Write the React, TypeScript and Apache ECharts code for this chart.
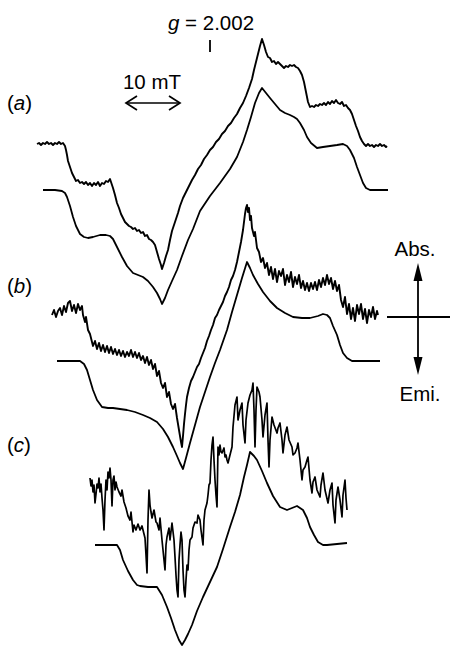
import React, { useEffect, useRef } from "react";
import * as echarts from "echarts";

// Field position (x) and signal level (y, plotted downward).
const traceA_exp: number[][] = [
  [37,144],[39,143],[41,145],[43,143],[45,144],[47,142],[49,144],[51,143],[53,145],[55,143],[57,144],[59,142],[61,144],[63,143],[65,146],[66,150],[67,155],[68,161],[70,167],[72,173],[74,177],[76,181],[78,180],[80,183],[82,182],[84,184],[86,182],[88,185],[90,183],[92,186],[94,183],[96,185],[98,182],[100,186],[102,183],[104,184],[106,181],[108,182],[110,179],[111,182],[113,188],[115,195],[117,203],[119,208],[121,214],[123,218],[125,222],[127,224],[129,226],[131,227],[133,229],[135,228],[137,231],[139,230],[141,233],[143,232],[145,236],[147,235],[149,239],[151,240],[153,242],[155,245],[157,252],[159,259],[161,265],[162,269],[164,263],[166,256],[168,250],[170,240],[172,231],[174,225],[176,219],[178,213],[180,206],[183,198],[186,192],[189,186],[192,180],[195,175],[198,169],[201,165],[204,159],[207,155],[210,150],[213,147],[216,142],[219,139],[222,134],[225,131],[228,126],[231,123],[234,118],[237,114],[240,108],[243,103],[246,96],[249,88],[252,79],[254,70],[256,62],[258,54],[260,46],[262,39],[264,45],[266,52],[268,57],[270,58],[272,62],[274,61],[276,64],[278,62],[280,64],[282,66],[284,68],[286,66],[288,67],[290,65],[292,66],[294,65],[296,67],[298,68],[300,71],[302,75],[304,82],[306,92],[308,102],[310,107],[312,106],[314,107],[316,105],[318,106],[320,104],[322,105],[324,103],[326,105],[328,102],[330,104],[332,101],[334,103],[336,100],[338,103],[340,104],[342,102],[344,106],[346,105],[348,108],[350,110],[352,114],[354,120],[356,126],[358,131],[360,137],[362,141],[364,144],[366,146],[368,144],[370,146],[372,145],[374,147],[376,145],[378,146],[380,144],[382,146],[384,145],[386,147],[387,146]
];

const traceA_sim: number[][] = [
  [43,190],[55,190],[62,191],[65,193],[67,197],[70,206],[73,217],[76,226],[80,234],[84,237],[88,238],[93,237],[100,235],[106,235],[110,236],[113,239],[117,247],[122,257],[127,266],[133,273],[138,275],[143,277],[148,281],[153,287],[157,293],[160,299],[162,304],[165,298],[168,290],[172,281],[177,270],[182,256],[188,240],[193,229],[200,211],[210,196],[220,183],[230,169],[237,157],[243,142],[247,130],[251,117],[255,103],[259,93],[262,88],[266,93],[270,98],[275,104],[280,110],[285,113],[290,115],[294,117],[297,119],[300,123],[304,130],[307,137],[311,143],[317,148],[323,147],[330,146],[337,145],[343,144],[347,146],[350,150],[354,158],[357,167],[360,175],[363,183],[366,188],[370,190],[380,190],[388,190]
];

const traceB_exp: number[][] = [
  [52,315],[54,310],[56,317],[58,311],[60,308],[62,315],[64,306],[66,312],[68,303],[70,301],[72,311],[74,305],[76,313],[78,304],[80,310],[82,306],[83,315],[85,322],[86,317],[88,330],[90,334],[92,342],[93,346],[95,341],[97,349],[99,343],[101,351],[103,345],[105,352],[107,346],[109,353],[111,347],[113,354],[115,349],[117,355],[119,350],[121,356],[123,351],[125,357],[127,352],[129,356],[131,350],[133,357],[135,352],[137,358],[139,353],[141,360],[143,356],[145,363],[147,357],[149,365],[151,360],[153,369],[155,364],[157,376],[159,371],[161,383],[163,388],[165,383],[167,397],[169,392],[171,404],[173,409],[175,404],[177,418],[179,430],[181,442],[182,447],[183,436],[184,424],[185,414],[186,405],[187,397],[189,388],[191,381],[193,377],[195,372],[197,367],[199,364],[201,358],[203,353],[205,348],[207,341],[209,336],[211,330],[213,325],[215,318],[217,315],[219,310],[221,306],[223,302],[225,296],[227,292],[229,287],[231,280],[233,276],[235,270],[237,262],[239,252],[241,242],[243,230],[244,222],[245,214],[246,208],[247,205],[248,212],[249,208],[250,220],[251,216],[252,228],[254,236],[255,232],[257,248],[259,252],[261,262],[263,258],[265,268],[267,263],[269,275],[271,267],[273,279],[275,269],[277,282],[279,271],[281,276],[283,269],[285,285],[287,275],[289,282],[291,272],[293,287],[295,277],[297,284],[299,275],[301,288],[303,281],[305,290],[307,283],[309,291],[311,283],[313,289],[315,282],[317,290],[319,280],[321,287],[323,278],[325,285],[327,275],[329,284],[331,278],[333,289],[335,281],[337,291],[339,285],[341,300],[343,307],[345,297],[347,314],[349,304],[351,319],[353,308],[355,321],[357,305],[359,314],[361,304],[363,319],[365,309],[367,323],[369,310],[371,317],[373,307],[375,319],[377,311],[378,315]
];

const traceB_sim: number[][] = [
  [57,361],[70,361],[80,361],[84,364],[87,370],[90,380],[93,390],[97,400],[102,407],[108,408],[113,408],[120,409],[127,410],[135,412],[143,415],[150,418],[157,422],[163,429],[168,437],[173,447],[177,456],[180,463],[183,469],[186,458],[190,443],[195,425],[200,407],[205,392],[210,377],[215,363],[220,350],[227,330],[232,312],[237,295],[242,278],[247,262],[250,268],[253,275],[258,284],[263,292],[270,301],[277,308],[285,313],[293,317],[302,318],[310,318],[318,316],[323,314],[327,315],[330,318],[333,326],[337,335],[340,345],[343,353],[347,358],[352,361],[365,361],[380,361]
];

const traceC_exp: number[][] = [
  [90,478],[91,486],[92,480],[93,492],[94,485],[95,503],[96,494],[97,484],[98,488],[99,478],[100,492],[101,484],[102,498],[103,510],[104,530],[105,500],[106,480],[107,490],[108,472],[109,478],[110,468],[111,480],[112,506],[113,480],[114,476],[115,490],[116,482],[117,487],[119,492],[121,496],[122,490],[124,502],[126,508],[128,516],[130,520],[131,512],[133,532],[134,525],[136,530],[138,524],[140,530],[142,526],[144,534],[145,538],[146,555],[147,573],[148,520],[149,490],[150,505],[151,512],[152,518],[154,510],[156,522],[157,523],[159,530],[160,518],[162,540],[164,560],[165,570],[166,545],[167,537],[169,528],[170,540],[172,523],[174,540],[175,557],[176,575],[177,590],[178,597],[179,560],[180,545],[181,532],[182,540],[183,570],[184,590],[185,597],[186,580],[187,565],[188,570],[189,550],[190,540],[192,537],[193,528],[195,522],[197,523],[198,515],[200,520],[201,530],[203,545],[204,520],[205,510],[207,503],[208,495],[209,485],[210,483],[211,460],[212,445],[213,437],[214,460],[215,480],[216,495],[217,507],[218,447],[219,455],[220,445],[221,452],[222,453],[224,448],[225,457],[226,455],[227,460],[228,463],[230,455],[232,447],[233,427],[235,405],[237,397],[238,420],[240,410],[242,403],[243,425],[245,443],[246,420],[248,403],[250,395],[252,390],[253,383],[254,410],[255,447],[256,410],[257,387],[259,392],[260,397],[262,420],[263,437],[265,415],[267,403],[268,440],[269,467],[270,440],[272,417],[274,425],[277,433],[278,428],[280,423],[282,440],[283,453],[285,435],[287,427],[289,440],[292,447],[293,455],[295,453],[297,448],[298,443],[300,460],[302,480],[303,470],[305,467],[307,460],[308,457],[310,480],[312,493],[313,482],[315,477],[317,490],[320,497],[321,485],[323,473],[325,490],[328,503],[330,490],[332,483],[333,505],[335,523],[336,500],[338,487],[340,500],[342,517],[343,495],[345,480],[346,498],[347,510]
];

const traceC_sim: number[][] = [
  [95,545],[105,545],[117,545],[120,550],[123,560],[128,571],[133,580],[137,585],[140,586],[148,587],[157,587],[162,595],[167,607],[171,618],[175,630],[179,640],[182,645],[185,640],[188,634],[192,625],[197,611],[203,597],[210,582],[217,567],[223,549],[230,527],[235,512],[240,495],[244,477],[247,465],[250,452],[254,456],[257,460],[262,471],[267,483],[273,496],[280,507],[287,510],[292,508],[297,506],[303,510],[307,518],[310,527],[314,535],[318,542],[323,545],[327,545],[337,544],[347,543]
];

const panelLabels = ["a", "b", "c"];
const gValue = "2.002";
const scaleLabel = "10 mT";
const absLabel = "Abs.";
const emiLabel = "Emi.";

const FONT = "'Liberation Sans', Arial, Helvetica, sans-serif";
const FS = 20.5;

export default function App() {
  const ref = useRef<HTMLDivElement>(null);
  useEffect(() => {
    document.body.style.margin = "0";
    if (!ref.current) return;
    const chart = echarts.init(ref.current, null, { renderer: "svg" });
    const mk = (data: number[][], w: number) => ({
      type: "line",
      data,
      showSymbol: false,
      symbol: "none",
      smooth: false,
      silent: true,
      lineStyle: { color: "#000", width: w, join: "round" },
      itemStyle: { color: "#000" },
    });
    const labelYs = [102, 285, 444];
    const panelTexts = panelLabels.map((l, i) => ({
      type: "text",
      x: 7,
      y: labelYs[i],
      style: {
        text: `{n|(}{i|${l}}{n|)}`,
        verticalAlign: "middle",
        rich: {
          n: { fontSize: FS, fontFamily: FONT, fill: "#000" },
          i: { fontSize: FS, fontFamily: FONT, fontStyle: "italic", fill: "#000" },
        },
      },
    }));
    chart.setOption({
      animation: false,
      backgroundColor: "#fff",
      grid: { left: 0, right: 0, top: 0, bottom: 0 },
      xAxis: { type: "value", min: 0, max: 450, show: false },
      yAxis: { type: "value", min: 0, max: 647, inverse: true, show: false },
      series: [
        mk(traceA_exp, 1.9),
        mk(traceA_sim, 1.8),
        mk(traceB_exp, 1.9),
        mk(traceB_sim, 1.8),
        mk(traceC_exp, 1.7),
        mk(traceC_sim, 1.8),
      ],
      graphic: [
        {
          type: "text",
          x: 211,
          y: 22,
          style: {
            text: `{i|g}{n| = ${gValue}}`,
            align: "center",
            verticalAlign: "middle",
            rich: {
              n: { fontSize: FS, fontFamily: FONT, fill: "#000" },
              i: { fontSize: FS, fontFamily: FONT, fontStyle: "italic", fill: "#000" },
            },
          },
        },
        { type: "line", shape: { x1: 210, y1: 40, x2: 210, y2: 52 }, style: { stroke: "#000", lineWidth: 1.8 } },
        {
          type: "text",
          x: 152,
          y: 81,
          style: { text: scaleLabel, fontSize: FS, fontFamily: FONT, fill: "#000", align: "center", verticalAlign: "middle" },
        },
        { type: "line", shape: { x1: 126, y1: 103, x2: 180, y2: 103 }, style: { stroke: "#000", lineWidth: 1.7 } },
        { type: "polyline", shape: { points: [[137, 96], [126, 103], [137, 110]] }, style: { stroke: "#000", lineWidth: 1.7, fill: "none" } },
        { type: "polyline", shape: { points: [[169, 96], [180, 103], [169, 110]] }, style: { stroke: "#000", lineWidth: 1.7, fill: "none" } },
        ...panelTexts,
        // Abs./Emi. cross
        { type: "line", shape: { x1: 418, y1: 270, x2: 418, y2: 368 }, style: { stroke: "#000", lineWidth: 1.8 } },
        { type: "line", shape: { x1: 387, y1: 317, x2: 450, y2: 317 }, style: { stroke: "#000", lineWidth: 1.8 } },
        { type: "polygon", shape: { points: [[418, 263], [413.5, 281], [422.5, 281]] }, style: { fill: "#000" } },
        { type: "polygon", shape: { points: [[418, 375], [413.5, 357], [422.5, 357]] }, style: { fill: "#000" } },
        {
          type: "text",
          x: 415,
          y: 248,
          style: { text: absLabel, fontSize: FS, fontFamily: FONT, fill: "#000", align: "center", verticalAlign: "middle" },
        },
        {
          type: "text",
          x: 420,
          y: 393,
          style: { text: emiLabel, fontSize: FS, fontFamily: FONT, fill: "#000", align: "center", verticalAlign: "middle" },
        },
      ],
    });
    return () => chart.dispose();
  }, []);
  return <div ref={ref} style={{ position: "fixed", left: 0, top: 0, width: 450, height: 647 }} />;
}
